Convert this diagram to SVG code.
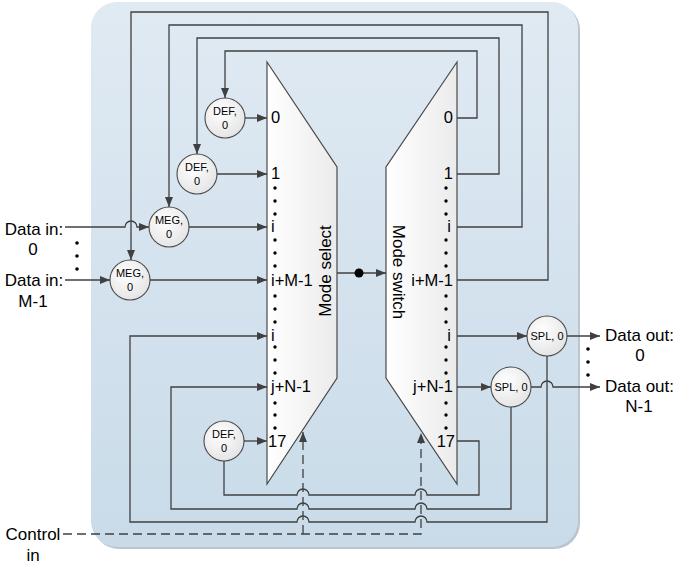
<svg xmlns="http://www.w3.org/2000/svg" width="674" height="568" viewBox="0 0 674 568">
<defs>
<linearGradient id="bgGrad" x1="0" y1="0" x2="0" y2="1">
<stop offset="0" stop-color="#e0eaf3"/>
<stop offset="1" stop-color="#c9dbe9"/>
</linearGradient>
<linearGradient id="muxGrad" x1="0" y1="0" x2="1" y2="0">
<stop offset="0" stop-color="#ffffff"/>
<stop offset="1" stop-color="#ebebeb"/>
</linearGradient>
<radialGradient id="circGrad" cx="0.4" cy="0.35" r="0.7">
<stop offset="0" stop-color="#ffffff"/>
<stop offset="1" stop-color="#e3e3e3"/>
</radialGradient>
<marker id="arr" viewBox="0 0 10 8" refX="10" refY="4" markerWidth="10" markerHeight="8" markerUnits="userSpaceOnUse" orient="auto">
<path d="M0,0 L10,4 L0,8 z" fill="#404040"/>
</marker>
<style>
.ln{fill:none;stroke:#404040;stroke-width:1.3}
.ar{marker-end:url(#arr)}
.dash{stroke-dasharray:9,5}
.mux{fill:url(#muxGrad);stroke:#4a4a4a;stroke-width:1.2}
.circ{fill:url(#circGrad);stroke:#4a4a4a;stroke-width:1.1}
.t{font-family:"Liberation Sans",Arial,sans-serif;fill:#000}
.big{font-size:17px}
.port{font-size:16.5px}
.ml{font-size:17px;text-anchor:middle}
.sm{font-size:11px;text-anchor:middle}
.mid{text-anchor:middle}
.end{text-anchor:end}
.dot{fill:#000}
</style>
</defs>

<g id="background">
<rect x="93" y="4" width="487" height="545" rx="26" fill="#bcc5cd"/>
<rect x="91" y="2" width="487" height="545" rx="26" fill="url(#bgGrad)"/>
</g>

<g id="mode-select">
<polygon class="mux" points="267,62 337,167 337,378 267,484"/>
<text class="t port" x="271" y="123">0</text>
<text class="t port" x="271" y="179">1</text>
<text class="t port" x="271" y="232">i</text>
<text class="t port" x="271" y="286">i+M-1</text>
<text class="t port" x="271" y="341">i</text>
<text class="t port" x="271" y="392">j+N-1</text>
<text class="t port" x="268" y="447">17</text>
<g class="dot">
<circle cx="275" cy="188" r="1.7"/><circle cx="275" cy="201" r="1.7"/><circle cx="275" cy="214" r="1.7"/>
<circle cx="275" cy="240" r="1.7"/><circle cx="275" cy="253" r="1.7"/><circle cx="275" cy="266" r="1.7"/>
<circle cx="275" cy="296" r="1.7"/><circle cx="275" cy="309" r="1.7"/><circle cx="275" cy="322" r="1.7"/>
<circle cx="275" cy="347" r="1.7"/><circle cx="275" cy="360" r="1.7"/><circle cx="275" cy="373" r="1.7"/>
<circle cx="275" cy="403" r="1.7"/><circle cx="275" cy="415" r="1.7"/><circle cx="275" cy="428" r="1.7"/>
</g>
<text class="t ml" transform="translate(331,271) rotate(-90)">Mode select</text>
</g>

<g id="mode-switch">
<polygon class="mux" points="457,62 386,167 386,378 457,484"/>
<text class="t port end" x="453" y="123">0</text>
<text class="t port end" x="453" y="179">1</text>
<text class="t port end" x="451" y="232">i</text>
<text class="t port end" x="453" y="286">i+M-1</text>
<text class="t port end" x="451" y="341">i</text>
<text class="t port end" x="453" y="392">j+N-1</text>
<text class="t port end" x="455" y="447">17</text>
<g class="dot">
<circle cx="446" cy="188" r="1.7"/><circle cx="446" cy="201" r="1.7"/><circle cx="446" cy="214" r="1.7"/>
<circle cx="446" cy="240" r="1.7"/><circle cx="446" cy="253" r="1.7"/><circle cx="446" cy="266" r="1.7"/>
<circle cx="446" cy="296" r="1.7"/><circle cx="446" cy="309" r="1.7"/><circle cx="446" cy="322" r="1.7"/>
<circle cx="446" cy="347" r="1.7"/><circle cx="446" cy="360" r="1.7"/><circle cx="446" cy="373" r="1.7"/>
<circle cx="446" cy="403" r="1.7"/><circle cx="446" cy="415" r="1.7"/><circle cx="446" cy="428" r="1.7"/>
</g>
<text class="t ml" transform="translate(393,272) rotate(90)">Mode switch</text>
</g>

<g id="def-0">
<circle class="circ" cx="225" cy="118" r="20"/>
<text class="t sm" x="225" y="115">DEF,</text>
<text class="t sm" x="225" y="129">0</text>
</g>
<g id="def-1">
<circle class="circ" cx="197" cy="174" r="20"/>
<text class="t sm" x="197" y="171">DEF,</text>
<text class="t sm" x="197" y="185">0</text>
</g>
<g id="meg-0">
<circle class="circ" cx="169" cy="227" r="20"/>
<text class="t sm" x="169" y="224">MEG,</text>
<text class="t sm" x="169" y="238">0</text>
</g>
<g id="meg-1">
<circle class="circ" cx="130" cy="280" r="20"/>
<text class="t sm" x="130" y="277">MEG,</text>
<text class="t sm" x="130" y="291">0</text>
</g>
<g id="def-17">
<circle class="circ" cx="224" cy="441" r="20"/>
<text class="t sm" x="224" y="438">DEF,</text>
<text class="t sm" x="224" y="452">0</text>
</g>
<g id="spl-0">
<circle class="circ" cx="547" cy="336" r="20"/>
<text class="t sm" x="547" y="340">SPL, 0</text>
</g>
<g id="spl-1">
<circle class="circ" cx="511" cy="387" r="20"/>
<text class="t sm" x="511" y="391">SPL, 0</text>
</g>

<g id="data-in">
<text class="t big mid" x="34" y="235">Data in:</text>
<text class="t big mid" x="33" y="255">0</text>
<text class="t big mid" x="34" y="286">Data in:</text>
<text class="t big mid" x="33" y="307">M-1</text>
<g class="dot"><circle cx="77" cy="243" r="1.8"/><circle cx="77" cy="256" r="1.8"/><circle cx="77" cy="269" r="1.8"/></g>
</g>
<g id="data-out">
<text class="t big" x="605" y="341">Data out:</text>
<text class="t big mid" x="640" y="361">0</text>
<text class="t big" x="605" y="392">Data out:</text>
<text class="t big mid" x="639" y="412">N-1</text>
<g class="dot"><circle cx="588" cy="349" r="1.8"/><circle cx="588" cy="362" r="1.8"/><circle cx="588" cy="375" r="1.8"/></g>
</g>
<g id="control-in">
<text class="t big mid" x="33" y="540">Control</text>
<text class="t big mid" x="33" y="561">in</text>
</g>

<g id="connectors">
<path class="ln ar" d="M457,118 H477 V51 H225 V98"/>
<path class="ln ar" d="M457,174 H499 V38 H197 V154"/>
<path class="ln ar" d="M457,227 H522 V25 H169 V207"/>
<path class="ln ar" d="M457,280 H548 V12 H131 V260"/>
<path class="ln ar" d="M65,227 H125 A6,6 0 0 1 137,227 H149"/>
<path class="ln ar" d="M65,280 H110"/>
<path class="ln ar" d="M245,118 H267"/>
<path class="ln ar" d="M217,174 H267"/>
<path class="ln ar" d="M189,227 H267"/>
<path class="ln ar" d="M150,280 H267"/>
<path class="ln ar" d="M244,441 H267"/>
<path class="ln ar" d="M337,273 H386"/>
<circle cx="359" cy="273" r="4.5" fill="#000"/>
<path class="ln ar" d="M457,336 H527"/>
<path class="ln ar" d="M567,336 H600"/>
<path class="ln ar" d="M457,387 H491"/>
<path class="ln ar" d="M531,387 H541 A6,6 0 0 1 553,387 H600"/>
<path class="ln ar" d="M547,356 V522 H427 A6,6 0 0 0 415,522 H309 A6,6 0 0 0 297,522 H130 V336 H267"/>
<path class="ln ar" d="M511,407 V509 H427 A6,6 0 0 0 415,509 H309 A6,6 0 0 0 297,509 H171 V387 H267"/>
<path class="ln" d="M457,441 H479 V495 H427 A6,6 0 0 0 415,495 H309 A6,6 0 0 0 297,495 H224 V461"/>
<path class="ln dash ar" d="M63,534 H421 V433"/>
<path class="ln dash ar" d="M303,534 V432"/>
</g>
</svg>
